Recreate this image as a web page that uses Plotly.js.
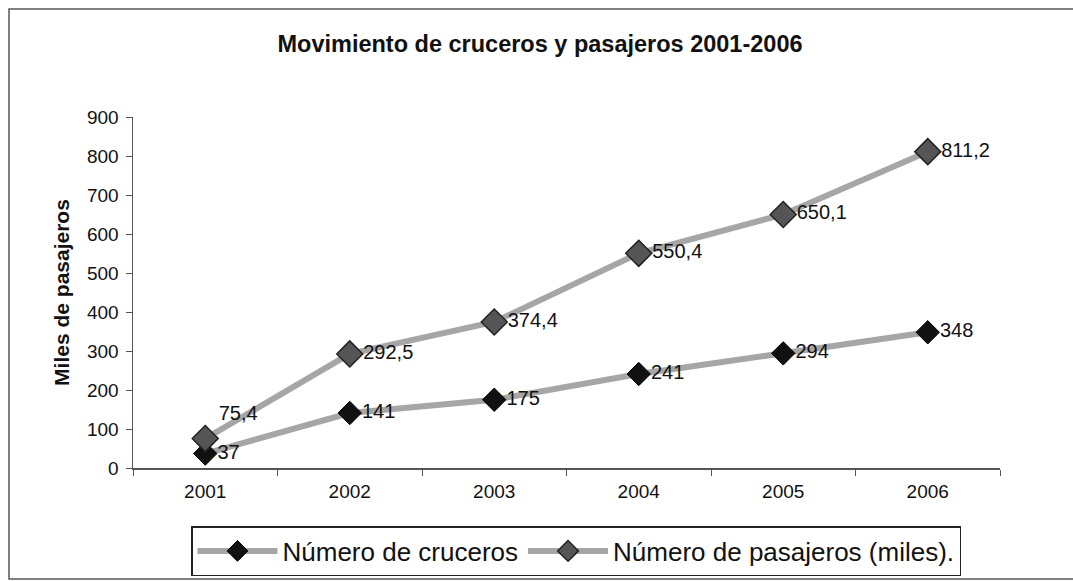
<!DOCTYPE html>
<html>
<head>
<meta charset="utf-8">
<script src="https://cdn.plot.ly/plotly-3.0.1.min.js"></script>
<style>
html,body{margin:0;padding:0;background:#fff;}
#chart{width:1073px;height:581px;}
</style>
</head>
<body>
<div id="chart"></div>
<script>
const years = ["2001", "2002", "2003", "2004", "2005", "2006"];
const cruceros = [37, 141, 175, 241, 294, 348];
const pasajeros = [75.4, 292.5, 374.4, 550.4, 650.1, 811.2];
const crucerosLabels = ["37", "141", "175", "241", "294", "348"];
const pasajerosLabels = ["75,4", "292,5", "374,4", "550,4", "650,1", "811,2"];
const seriesNames = ["Número de cruceros", "Número de pasajeros (miles)."];

const W = 1073, H = 581;
const L = 133, R = 1000, T = 117, B = 468;
const pw = R - L, ph = B - T;
const px = v => (v - L) / pw;
const py = v => (B - v) / ph;

const baseFont = "Arial, 'Liberation Sans', sans-serif";

const traces = [
  {
    x: years, y: cruceros, name: seriesNames[0], type: "scatter",
    mode: "lines+markers+text",
    text: crucerosLabels,
    textposition: ["middle right","middle right","middle right","middle right","middle right","middle right"],
    textfont: {family: baseFont, size: 20, color: "#111"},
    line: {color: "#a6a6a6", width: 6},
    marker: {symbol: "diamond", size: 18, color: "#111", line: {color: "#000", width: 1}},
    cliponaxis: false
  },
  {
    x: years, y: pasajeros, name: seriesNames[1], type: "scatter",
    mode: "lines+markers+text",
    text: pasajerosLabels,
    textposition: ["top right","middle right","middle right","middle right","middle right","middle right"],
    textfont: {family: baseFont, size: 20, color: "#111"},
    line: {color: "#a6a6a6", width: 6},
    marker: {symbol: "diamond", size: 20, color: "#555", line: {color: "#222", width: 1.5}},
    cliponaxis: false
  }
];

const layout = {
  width: W, height: H,
  margin: {l: L, r: W - R, t: T, b: H - B, pad: 0, autoexpand: false},
  paper_bgcolor: "#fff", plot_bgcolor: "#fff",
  showlegend: true,
  title: {
    text: "<b>Movimiento de cruceros y pasajeros 2001-2006</b>",
    font: {family: baseFont, size: 23.5, color: "#111"},
    x: 540 / W, xref: "container", xanchor: "center",
    y: 1 - 44 / H, yref: "container", yanchor: "middle"
  },
  xaxis: {
    type: "category", range: [-0.5, 5.5], tickson: "boundaries",
    ticks: "outside", ticklen: 6, tickcolor: "#555",
    showline: true, linecolor: "#555", linewidth: 1.5,
    showgrid: false, zeroline: false, automargin: false,
    ticklabelstandoff: 6,
    tickfont: {family: baseFont, size: 19, color: "#111"},
    fixedrange: true
  },
  yaxis: {
    range: [0, 900], dtick: 100, tick0: 0,
    ticks: "outside", ticklen: 6, tickcolor: "#555",
    showline: true, linecolor: "#555", linewidth: 1.5,
    showgrid: false, zeroline: false, automargin: false,
    ticklabelstandoff: 3,
    tickfont: {family: baseFont, size: 19, color: "#111"},
    title: {text: "<b>Miles de pasajeros</b>", font: {family: baseFont, size: 21, color: "#111"}, standoff: 11},
    fixedrange: true
  },
  legend: {
    orientation: "h",
    x: px(191), y: py(526), xanchor: "left", yanchor: "top",
    bordercolor: "#222", borderwidth: 1.5, bgcolor: "#fff",
    font: {family: baseFont, size: 26, color: "#111"},
    itemwidth: 80, tracegroupgap: 0
  },
  shapes: [
    {type: "rect", xref: "paper", yref: "paper",
     x0: px(9), x1: px(1076), y0: py(579), y1: py(9),
     line: {color: "#555", width: 1.5}, layer: "below"}
  ]
};

Plotly.newPlot("chart", traces, layout, {displayModeBar: false, staticPlot: true});
</script>
</body>
</html>
